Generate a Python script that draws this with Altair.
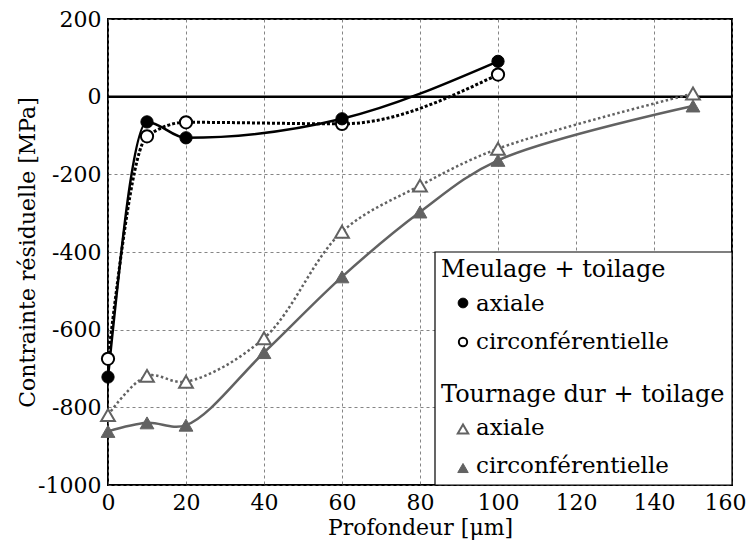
import altair as alt
import pandas as pd

# ---- data ----
depth_meulage = [0, 10, 20, 60, 100]
meulage_axiale = [-722, -65, -106, -57, 91]
meulage_circ = [-675, -102, -66, -70, 57]

depth_tournage = [0, 10, 20, 40, 60, 80, 100, 150]
tournage_axiale = [-820, -719, -734, -622, -348, -229, -134, 8]
tournage_circ = [-862, -840, -846, -659, -464, -297, -164, -24]

x_ticks = [0, 20, 40, 60, 80, 100, 120, 140, 160]
y_ticks = [-1000, -800, -600, -400, -200, 0, 200]

group_titles = ["Meulage + toilage", "Tournage dur + toilage"]
item_labels = ["axiale", "circonférentielle"]

GRAY = "#626262"
FONT = "DejaVu Serif, serif"
W, H = 624, 466

xs = alt.Scale(domain=[0, 160], nice=False)
ys = alt.Scale(domain=[-1000, 200], nice=False)

axis_style = dict(labelFont=FONT, labelFontSize=22, labelColor="black",
                  titleFont=FONT, titleFontSize=22, titleFontWeight="normal",
                  titleColor="black", labelFlush=False, labelPadding=7,
                  titleBaseline="alphabetic")

X = alt.X("x:Q", scale=xs,
          axis=alt.Axis(values=x_ticks, title="Profondeur [μm]",
                        labelOffset={"condition": {"test": "datum.value == 160", "value": -7},
                                     "value": 0},
                        titleY=49, **axis_style))
Y = alt.Y("y:Q", scale=ys,
          axis=alt.Axis(values=y_ticks, title="Contrainte résiduelle [MPa]",
                        labelExpr="'' + datum.value",
                        titleX=-74, titleY=H / 2, **axis_style))


def frame(xv, yv):
    return pd.DataFrame({"x": xv, "y": yv})


zero = alt.Chart(pd.DataFrame({"y": [0]})).mark_rule(
    color="black", strokeWidth=2.5).encode(y=Y)

def series(xv, yv, color, dash, width, interp, shape, size, fill, stroke, sw):
    d = frame(xv, yv)
    line_kw = dict(color=color, strokeWidth=width, interpolate=interp)
    if dash:
        line_kw["strokeDash"] = dash
    line = alt.Chart(d).mark_line(**line_kw).encode(x=X, y=Y)
    pts = alt.Chart(d).mark_point(shape=shape, size=size, filled=True,
                                  fill=fill, stroke=stroke, strokeWidth=sw,
                                  opacity=1).encode(x=X, y=Y)
    return line, pts

l1, p1 = series(depth_tournage, tournage_axiale, GRAY, [2.5, 2.5], 2.5, "catmull-rom",
                "triangle-up", 190, "white", GRAY, 2)
l2, p2 = series(depth_tournage, tournage_circ, GRAY, None, 2.5, "catmull-rom",
                "triangle-up", 190, GRAY, GRAY, 1)
l3, p3 = series(depth_meulage, meulage_circ, "black", [3, 2], 3, "monotone",
                "circle", 150, "white", "black", 2)
l4, p4 = series(depth_meulage, meulage_axiale, "black", None, 2.5, "monotone",
                "circle", 150, "black", "black", 1)

one = pd.DataFrame({"a": [0]})

legend_box = alt.Chart(one).mark_rect(fill="white", stroke="black", strokeWidth=1.2).encode(
    x=alt.value(327), x2=alt.value(W), y=alt.value(233), y2=alt.value(H))


def text(label, px, py, size):
    return alt.Chart(one).mark_text(text=label, font=FONT, fontSize=size, align="left",
                                    baseline="alphabetic", color="black").encode(
        x=alt.value(px), y=alt.value(py))


def sym(px, py, shape, size, fill, stroke, sw):
    return alt.Chart(one).mark_point(shape=shape, size=size, filled=True, fill=fill,
                                     stroke=stroke, strokeWidth=sw, opacity=1).encode(
        x=alt.value(px), y=alt.value(py))

legend_layers = [
    legend_box,
    text(group_titles[0], 333, 258, 24),
    sym(355, 284, "circle", 95, "black", "black", 1),
    text(item_labels[0], 368, 292, 23),
    sym(355, 323, "circle", 70, "white", "black", 2),
    text(item_labels[1], 368, 330, 23),
    text(group_titles[1], 333, 383, 24),
    sym(355, 410, "triangle-up", 110, "white", GRAY, 2),
    text(item_labels[0], 368, 416, 23),
    sym(355, 449, "triangle-up", 110, GRAY, GRAY, 1),
    text(item_labels[1], 368, 454, 23),
]

chart = alt.layer(zero, l1, l2, l3, l4, p1, p2, p3, p4, *legend_layers).properties(
    width=W, height=H,
    autosize=alt.AutoSizeParams(type="none"),
    padding={"left": 100, "top": 11, "right": 14, "bottom": 55},
    background="white",
).configure_view(stroke="black", strokeWidth=2).configure_axis(
    grid=True, gridDash=[3, 3], gridColor="#666666", gridWidth=0.8,
    domain=False, ticks=False,
)

chart.save("out.html", embed_options={"renderer": "svg", "actions": False})
